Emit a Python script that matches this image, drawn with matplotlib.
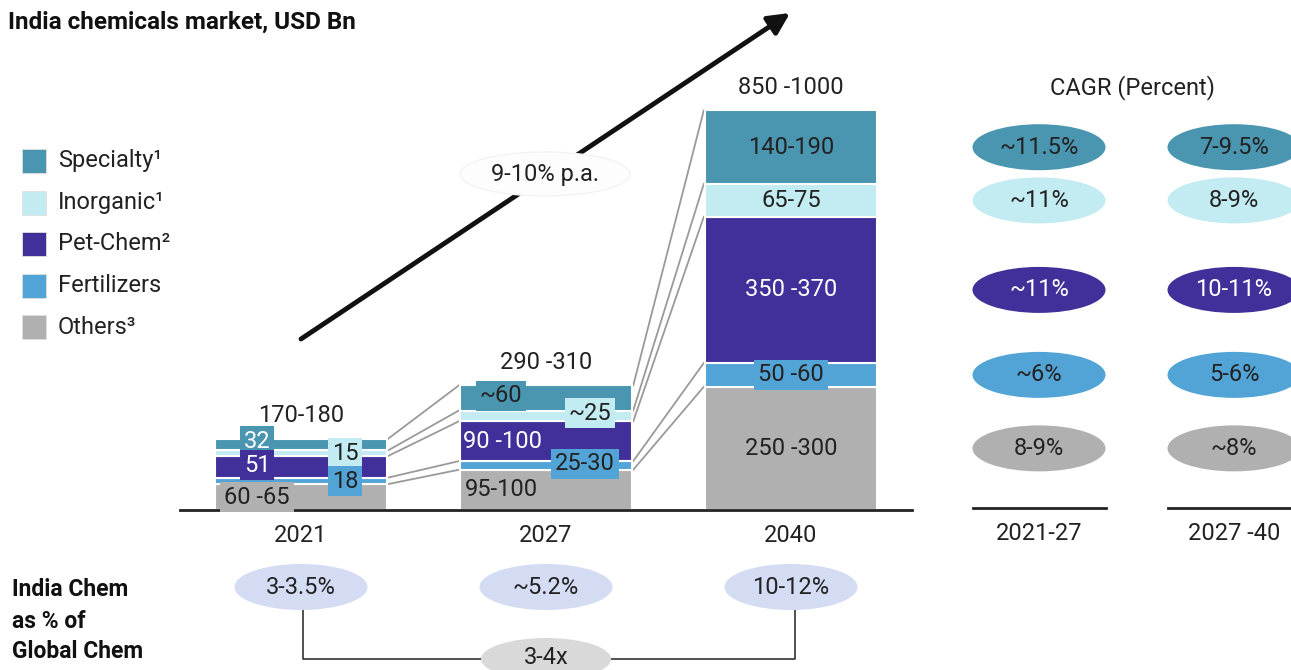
import matplotlib
matplotlib.use("Agg")
import matplotlib.pyplot as plt
from matplotlib.patches import Ellipse, Rectangle

plt.rcParams["font.family"] = ["Roboto", "DejaVu Sans"]

# ---- data ----
years = ["2021", "2027", "2040"]
totals = ["170-180", "290 -310", "850 -1000"]
# stacking order bottom -> top
others = [60, 93, 285]
fertilizers = [15, 20, 55]
petchem = [50, 92, 338]
inorganic = [13, 25, 76]
specialty = [27, 58, 170]

legend_labels = ["Specialty¹", "Inorganic¹", "Pet-Chem²", "Fertilizers", "Others³"]

lbl_others = ["60 -65", "95-100", "250 -300"]
lbl_fert = ["18", "25-30", "50 -60"]
lbl_pet = ["51", "90 -100", "350 -370"]
lbl_inorg = ["15", "~25", "65-75"]
lbl_spec = ["32", "~60", "140-190"]

cagr_periods = ["2021-27", "2027 -40"]
cagr_21_27 = ["~11.5%", "~11%", "~11%", "~6%", "8-9%"]   # spec, inorg, pet, fert, others
cagr_27_40 = ["7-9.5%", "8-9%", "10-11%", "5-6%", "~8%"]

share_global = ["3-3.5%", "~5.2%", "10-12%"]
share_mult = "3-4x"
growth_label = "9-10% p.a."

# ---- styles ----
C_SPEC = "#4a96b0"
C_INORG = "#c2ecf2"
C_PET = "#41309a"
C_FERT = "#52a4d6"
C_OTH = "#b0b0b0"
C_LAV = "#d4dcf4"
C_GREY2 = "#d9d9d9"
DARK = "#222222"
FS = 17

# pixel <-> data helpers (axes covers the whole figure)
PX_X0, PX_PER_X = 301, 245.0
PX_BASE, PX_PER_U = 510, 0.4324


def X(px):
    return (px - PX_X0) / PX_PER_X


def Y(py):
    return (PX_BASE - py) / PX_PER_U


fig = plt.figure(figsize=(12.91, 6.70), dpi=100)
ax = fig.add_axes([0, 0, 1, 1])
ax.set_xlim(X(0), X(1291))
ax.set_ylim(Y(670), Y(0))
ax.axis("off")

xs = [0, 1, 2]
W = 172 / PX_PER_X
stack = [others, fertilizers, petchem, inorganic, specialty]
colors = [C_OTH, C_FERT, C_PET, C_INORG, C_SPEC]

bottoms = [0, 0, 0]
tops = []  # cumulative tops per segment
for vals, col in zip(stack, colors):
    ax.bar(xs, vals, W, bottom=bottoms, color=col, edgecolor="white",
           linewidth=1.5, zorder=2)
    bottoms = [b + v for b, v in zip(bottoms, vals)]
    tops.append(list(bottoms))
mids = [[t - v / 2 for t, v in zip(tops[i], stack[i])] for i in range(5)]

# connector lines between bars (segment tops)
for i in range(2):
    for seg in range(5):
        ax.plot([xs[i] + W / 2 + 0.005, xs[i + 1] - W / 2 - 0.005],
                [tops[seg][i], tops[seg][i + 1]], color="#9a9a9a", lw=1.3,
                zorder=1)

# baseline and year labels
ax.plot([X(180), X(912)], [0, 0], color=DARK, lw=2, zorder=3)
for x, yr, tot, top in zip(xs, years, totals, tops[-1]):
    ax.text(x, Y(536), yr, ha="center", va="center", fontsize=FS, color=DARK)
    ax.text(x, top + 23 / PX_PER_U, tot, ha="center", va="center",
            fontsize=FS, color=DARK)


def boxed(x, y, s, fc=None, tc=DARK):
    kw = dict(ha="center", va="center", fontsize=FS, color=tc, zorder=5)
    if fc is not None:
        kw["bbox"] = dict(boxstyle="square,pad=0.16", fc=fc, ec="none")
    ax.text(x, y, s, **kw)


# 2021 labels (boxed, offset to the sides)
boxed(X(257), Y(441), lbl_spec[0], C_SPEC, "white")
boxed(X(257), Y(465), lbl_pet[0], C_PET, "white")
boxed(X(257), Y(497), lbl_others[0], C_OTH)
boxed(X(345), Y(453), lbl_inorg[0], C_INORG)
boxed(X(345), Y(481), lbl_fert[0], C_FERT)
# 2027 labels
boxed(X(501), Y(396), lbl_spec[1], C_SPEC)
boxed(X(590), Y(413), lbl_inorg[1], C_INORG)
boxed(X(502), mids[2][1], lbl_pet[1], None, "white")
boxed(X(585), Y(464), lbl_fert[1], C_FERT)
boxed(X(501), Y(489), lbl_others[1], None)
# 2040 labels
boxed(xs[2], mids[4][2], lbl_spec[2])
boxed(xs[2], mids[3][2], lbl_inorg[2])
boxed(xs[2], mids[2][2], lbl_pet[2], None, "white")
boxed(xs[2], mids[1][2], lbl_fert[2], C_FERT)
boxed(xs[2], mids[0][2], lbl_others[2])

# growth arrow
ax.annotate("", xy=(X(790), Y(13)), xytext=(X(301), Y(339)),
            arrowprops=dict(arrowstyle="-|>", lw=3.5, color="#111111",
                            mutation_scale=32, shrinkA=0, shrinkB=0),
            zorder=3)
ax.add_patch(Ellipse((X(545), Y(174)), 170 / PX_PER_X, 44 / PX_PER_U,
                     fc="#fdfdfd", ec="#f3f3f3", lw=1, zorder=4))
ax.text(X(545), Y(174), growth_label, ha="center", va="center", fontsize=FS,
        color=DARK, zorder=5)

# title
ax.text(X(8), Y(22), "India chemicals market, USD Bn", ha="left", va="center",
        fontsize=17.5, fontweight="bold", color="#111111")

# legend
leg_colors = [C_SPEC, C_INORG, C_PET, C_FERT, C_OTH]
for i, (lab, col) in enumerate(zip(legend_labels, leg_colors)):
    cy = 161 + i * 41.5
    ax.add_patch(Rectangle((X(22), Y(cy + 12)), 24 / PX_PER_X, 24 / PX_PER_U,
                           fc=col, ec="#e0e0e0", lw=0.6))
    ax.text(X(58), Y(cy), lab, ha="left", va="center", fontsize=FS,
            color=DARK)

# CAGR columns
ax.text(X(1132), Y(88), "CAGR (Percent)", ha="center", va="center",
        fontsize=FS, color=DARK)
cagr_x = [X(1039), X(1234)]
seg_mid_2040 = [mids[4][2], mids[3][2], mids[2][2], mids[1][2], mids[0][2]]
for cx, period, col_vals in zip(cagr_x, cagr_periods, [cagr_21_27, cagr_27_40]):
    for yv, txt, fc in zip(seg_mid_2040, col_vals, leg_colors):
        ax.add_patch(Ellipse((cx, yv), 133 / PX_PER_X, 46 / PX_PER_U, fc=fc,
                             ec="none", zorder=2))
        ax.text(cx, yv, txt, ha="center", va="center", fontsize=FS,
                color="white" if fc == C_PET else DARK, zorder=3)
    ax.plot([cx - 66.5 / PX_PER_X, cx + 66.5 / PX_PER_X], [Y(508), Y(508)],
            color=DARK, lw=2)
    ax.text(cx, Y(534), period, ha="center", va="center", fontsize=FS,
            color=DARK)

# India chem as % of global chem
for i, s in enumerate(["India Chem", "as % of", "Global Chem"]):
    ax.text(X(12), Y(590 + 31 * i), s, ha="left", va="center", fontsize=16.5,
            fontweight="bold", color="#111111")
for x, s in zip(xs, share_global):
    ax.add_patch(Ellipse((x, Y(587)), 133 / PX_PER_X, 46 / PX_PER_U,
                         fc=C_LAV, ec="none", zorder=2))
    ax.text(x, Y(587), s, ha="center", va="center", fontsize=FS, color=DARK,
            zorder=3)
ax.plot([X(303), X(303), X(795), X(795)],
        [Y(610), Y(659), Y(659), Y(610)], color="#333333", lw=1.2, zorder=1)
ax.add_patch(Ellipse((xs[1], Y(659)), 130 / PX_PER_X, 42 / PX_PER_U,
                     fc=C_GREY2, ec="none", zorder=2))
ax.text(xs[1], Y(657), share_mult, ha="center", va="center", fontsize=FS,
        color=DARK, zorder=3)

fig.savefig("out.png", dpi=100)
